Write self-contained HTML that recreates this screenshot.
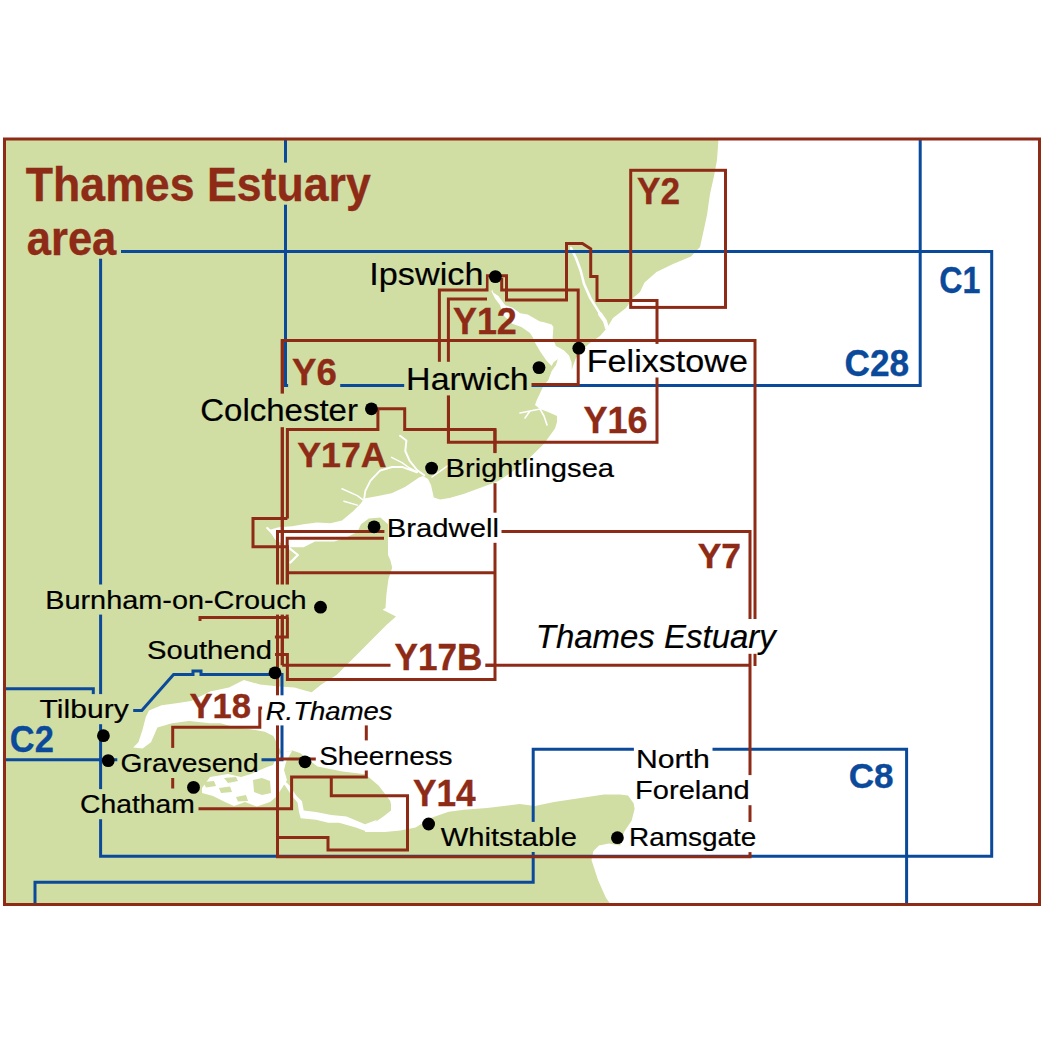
<!DOCTYPE html>
<html><head><meta charset="utf-8">
<style>
html,body{margin:0;padding:0;background:#fff;}
svg{display:block;}
text{font-family:"Liberation Sans",sans-serif;}
.br{fill:none;stroke:#8E2B17;stroke-width:3;stroke-linejoin:miter;stroke-linecap:butt;}
.bl{fill:none;stroke:#0B4A9B;stroke-width:3;stroke-linejoin:miter;stroke-linecap:butt;}
.lb{fill:#000;stroke:#000;stroke-width:0.2;}
.yb{font-weight:bold;fill:#8E2B17;stroke:#8E2B17;stroke-width:0.35;}
.cb{font-weight:bold;fill:#0B4A9B;stroke:#0B4A9B;stroke-width:0.35;}
</style></head>
<body>
<svg width="1044" height="1044" viewBox="0 0 1044 1044">
<defs>
<mask id="km" maskUnits="userSpaceOnUse" x="0" y="0" width="1044" height="1044">
<rect x="0" y="0" width="1044" height="1044" fill="#fff"/>
<g fill="#000">
<!--KNOCKOUTS-->
<rect x="21.5" y="162.6" width="353.5" height="42.1"/>
<rect x="23.3" y="232.5" width="97.7" height="26.2"/>
<rect x="367.9" y="256.4" width="118.0" height="31.6"/>
<rect x="288.1" y="353.7" width="52.1" height="36.8"/>
<rect x="404.2" y="361.8" width="127.3" height="33.6"/>
<rect x="585.0" y="343.9" width="166.0" height="33.6"/>
<rect x="197.5" y="393.6" width="164.9" height="33.6"/>
<rect x="443.2" y="453.1" width="175.6" height="30.1"/>
<rect x="384.4" y="512.7" width="117.1" height="30.1"/>
<rect x="43.0" y="584.5" width="266.6" height="30.1"/>
<rect x="534.5" y="619.0" width="247.7" height="34.8"/>
<rect x="143.5" y="634.9" width="131.4" height="30.1"/>
<rect x="390.5" y="638.2" width="94.8" height="37.2"/>
<rect x="262.1" y="695.3" width="134.6" height="30.1"/>
<rect x="35.7" y="694.1" width="97.5" height="30.1"/>
<rect x="117.3" y="747.9" width="144.2" height="30.1"/>
<rect x="315.8" y="740.4" width="140.3" height="30.1"/>
<rect x="633.9" y="743.5" width="78.6" height="30.1"/>
<rect x="633.0" y="775.1" width="119.7" height="30.1"/>
<rect x="77.0" y="789.1" width="120.8" height="30.1"/>
<rect x="436.5" y="821.9" width="143.6" height="30.1"/>
<rect x="626.8" y="822.0" width="133.0" height="30.1"/>
<!--/KNOCKOUTS-->
</g>
</mask>
</defs>
<rect x="0" y="0" width="1044" height="1044" fill="#fff"/>
<!-- land -->
<rect x="4.5" y="139" width="1035" height="765.5" fill="#D0DDA3"/>
<!-- sea -->
<path id="sea" fill="#fff" d="M718.5,139 L717,160 L714,176 L710,194 L707,215 L704,229 L700,247 L691,256.5 L673,264 L656.5,272 L644.5,282.4 L640,292 L633,298 L626,308 L613,318 L607,328 L600,336 L590,343 L582,350 L576,358 L573,366 L571.8,370 L571.6,362.4 L569,355.5 L563.8,350.3 L556,346 L552.6,338.3 L553.4,327 L551.7,324.5 L543.1,321.9 L540,321.4 L527.7,314.5 L520.2,313.3 L512.2,307.6 L505.3,305.3 L498.4,296.1 L493.2,292.6 L492.1,289.2 L491.5,291.5 L495,298.4 L500.1,305.3 L503,315 L512.2,323.7 L521.4,327.1 L530,332.9 L532.9,337.5 L534.5,341.7 L540.5,352 L546.6,360.7 L551.7,365.9 L553.4,362.4 L557.8,359 L556,365 L551.7,371 L548.3,380 L543.3,386.3 L536.8,400 L535,405 L540,409 L548,412 L557,416 L557,422 L555,428.5 L544.4,443.2 L527.5,460 L510.7,472.7 L498,481.2 L481.2,487.5 L464.3,493.8 L449.5,498 L440,499.5 L433.8,497.4 L431,485 L428,479 L423,476 L419,477.4 L405,487 L391.6,493.2 L378,496 L364.2,498.5 L361,503.2 L353.4,511 L342,520.5 L330.5,523.3 L317,522.4 L303.6,524.3 L292.1,526.2 L278.7,527.2 L269,530 L275,539.6 L288.3,547.3 L303.6,547.3 L315,541.5 L334.3,541.5 L345.8,537.7 L357.3,532 L361,524.3 L368.8,518.5 L380.3,517.6 L388,524.3 L388,555 L390.3,560 L392.2,567.7 L388.4,579.2 L386.4,594.5 L385.5,607.9 L382.6,609.8 L396,616.5 L386.4,625.1 L375,636.6 L359.6,652 L344.3,667.3 L336.6,675 L321.3,684.5 L311.7,692.2 L304,690.3 L294.5,687.4 L279.2,686.4 L260,684.5 L243.8,680 L229,687.4 L210,691.6 L191,701 L176.4,703.2 L161.6,705.3 L149,710.6 L145.8,716.9 L142.6,729.5 L138.4,742.2 L133.2,747.5 L142.6,748.5 L151,742.2 L157.4,727.4 L172,723.2 L189,721 L210,723.2 L220.6,723.2 L235.4,727.4 L252.2,729.5 L264.9,731.7 L273.3,735.9 L277.5,744.3 L281.7,752.7 L292.3,750.6 L300,753 L317.5,766.6 L342.4,771.4 L365.4,774.3 L378.8,785.8 L390.3,801.1 L391,804.4 L391,810.5 L383.4,816.6 L374.2,822.8 L366.6,825.8 L365,832 L385,832 L400.3,830.4 L415.6,827.4 L423.3,822.8 L430,818.2 L448.7,811.7 L464,809.8 L487,807.9 L519.6,804 L535,806 L554,802 L579,798.3 L604,794.5 L620,794.5 L628,795.6 L633.6,803.2 L634.6,809 L631.7,820.5 L624,832 L620.2,845.4 L608.7,843.4 L599,845.4 L593.4,851 L591.5,860 L598,880 L606,898 L612,906 L1044,906 L1044,139 Z"/>
<!-- rivers -->
<g fill="none" stroke="#fff" stroke-linecap="round" stroke-linejoin="round">
<path stroke-width="2.6" d="M571,248 L576,258 L580.7,270.7 L584,283.7 L590.5,298.4 L598.6,311.4 L603,318"/>
<path stroke-width="4" d="M600,314 L605,321.2 L607,328"/>
<path stroke-width="1.6" d="M540,409 L530,411 L520,413 M530,411 L525,418 M540,409 L544,416 L547,425"/>
<path stroke-width="2" d="M400,435.8 L406.4,440.5 L405.3,451 L409.5,460.6 L417,470 L424.3,475.3"/>
<path stroke-width="1.5" d="M391.6,457.4 L402,462.7 L409.5,468 L417,472"/>
<path stroke-width="2" d="M380,470.6 L392,467 L402,466.9 L417,472.2"/>
<path stroke-width="1.8" d="M380,470.6 L370.5,480.6 L365.3,491 L364.2,498.5"/>
<path stroke-width="1.5" d="M432,477 L447.5,465.8"/>
<path stroke-width="1.5" d="M342,488.8 L357.3,495.6 L365,501.3 M343.9,501.3 L357.3,505.1"/>
<path stroke-width="2.2" d="M267.2,528 L275,535.8"/>
<path stroke-width="2.2" d="M288.3,547.3 L297.9,555 L290.2,562.6"/>
</g>
<path fill="#fff" d="M368,832 L355.8,827.4 L339,822.8 L328.2,822.8 L316,819.7 L300.7,818.2 L299,812 L297.6,802.8 L291.5,795.2 L285.3,786 L279.2,778.3 L274.6,772.2 L277.7,770.7 L282.3,778.3 L290,786 L296,795.2 L302,801.3 L303.7,810.5 L316,812 L331.3,815.1 L346.6,816.6 L365,824.3 L377,819.7 Z"/>
<path fill="#fff" d="M202,788 L210,777 L228,774 L241,777 L251,774 L260,770 L267,767 L273,765 L276,758 L282,752 L292,751 L286,762 L284,770 L287,780 L282,788 L276,797 L270,802 L257,806.6 L245,802 L234,806 L225,802 L213,796 L202,793 Z"/>
<g fill="#D0DDA3">
<path d="M203,782 L214,781 L216,786 L206,787.5 Z"/>
<path d="M219,788 L230,786.5 L232,792 L221,793 Z"/>
<path d="M236,797 L246,795 L248,801 L238,801.5 Z"/>
<path d="M253,780 L262,778 L270,781 L271,793 L262,795 L254,792 Z"/>
<path d="M224,778 L236,777 L238,781 L228,783 Z"/>
</g>
<!-- LINES -->
<g mask="url(#km)">
<!-- blue -->
<path class="bl" d="M100.6,856.2 V251.5 H991.7 V856.2 Z"/>
<path class="bl" d="M285.5,139 V385.5 H920.2 V139"/>
<path class="bl" d="M6,688.7 H93.3 V694.5 L93.3,710.4 H141.8 L173.6,674.5 H193 V671 H201 V674.5 H282 V759.7 H6"/>
<path class="bl" d="M35,905 V882.2 H533.2 V749.3 H906.6 V905"/>
<!-- brown -->
<rect class="br" x="630.7" y="170.3" width="94.8" height="137.1"/>
<path class="br" d="M282.2,665.2 V340.6 H755 V666"/>
<path class="br" d="M277.5,856.7 V531.5 H750 V856.7 Z"/>
<path class="br" d="M485,665.2 H750"/>
<path class="br" d="M282.2,665.2 H495"/>
<path class="br" d="M439.4,362 V290 H487 V275.7 H506.5 V300 H566.5 V243.6 H582.4 L590.7,248.8 V276.4 H597 V300.5 H657 V442.3 H448.4 V299 H487"/>
<path class="br" d="M501.7,277.7 V289.9 H578.2 V384.5 H448.4"/>
<path class="br" d="M287.4,518.5 V429.5 H377.9 V408.8 H404.7 V429.5 H495 V679.5 H287.4 V654.6 H275"/>
<path class="br" d="M287.4,518.5 H253 V546.7 H287.4 V585"/>
<path class="br" d="M384,538.3 H287.2 V617.5 H200 V621"/>
<path class="br" d="M287.4,617.5 V636.9 H271.6"/>
<path class="br" d="M287.2,572.8 H495"/>
<path class="br" d="M282.4,340.6 V665"/>
<path class="br" d="M277.5,531.5 V856.7"/>
<path class="br" d="M429.5,429.5 H404.7"/>
<path class="br" d="M448.5,394.8 V442.2"/>
<path class="br" d="M494.9,429.5 V452.7"/>
<path class="br" d="M172.7,788.4 V727.2 H259.8 V708 H366.3 V777 H291.6 V808.7 H198.5"/>
<path class="br" d="M277.5,759 H316.5"/>
<path class="br" d="M331.3,776.2 V795.7 H407.5 V850 H328 V837.5 H277.5"/>
</g>
<!-- TEXT -->
<text class="yb" x="25.75" y="201" style="font-size:48.84px" textLength="344.97" lengthAdjust="spacingAndGlyphs">Thames Estuary</text>
<text class="yb" x="26.78" y="254.5" style="font-size:48.8px" textLength="89.52" lengthAdjust="spacingAndGlyphs">area</text>
<text class="yb" x="636.99" y="204" style="font-size:37.79px" textLength="43.03" lengthAdjust="spacingAndGlyphs">Y2</text>
<text class="cb" x="939.19" y="293.3" style="font-size:37.35px" textLength="41.13" lengthAdjust="spacingAndGlyphs">C1</text>
<text class="lb" x="369.33" y="284.5" style="font-size:32.12px" textLength="114.13" lengthAdjust="spacingAndGlyphs">Ipswich</text>
<text class="yb" x="452.95" y="333.6" style="font-size:36.34px" textLength="63.87" lengthAdjust="spacingAndGlyphs">Y12</text>
<text class="cb" x="844.54" y="376" style="font-size:37.5px" textLength="64.60" lengthAdjust="spacingAndGlyphs">C28</text>
<text class="yb" x="292.10" y="384.7" style="font-size:36.34px" textLength="44.74" lengthAdjust="spacingAndGlyphs">Y6</text>
<text class="lb" x="406.12" y="389.6" style="font-size:31.69px" textLength="122.63" lengthAdjust="spacingAndGlyphs">Harwich</text>
<text class="lb" x="586.77" y="371.7" style="font-size:31.69px" textLength="161.14" lengthAdjust="spacingAndGlyphs">Felixstowe</text>
<text class="lb" x="200.26" y="421.4" style="font-size:31.69px" textLength="157.70" lengthAdjust="spacingAndGlyphs">Colchester</text>
<text class="yb" x="583.50" y="432.8" style="font-size:36.77px" textLength="64.05" lengthAdjust="spacingAndGlyphs">Y16</text>
<text class="yb" x="297.32" y="467.4" style="font-size:35.76px" textLength="89.31" lengthAdjust="spacingAndGlyphs">Y17A</text>
<text class="lb" x="445.53" y="477.4" style="font-size:26.6px" textLength="168.58" lengthAdjust="spacingAndGlyphs">Brightlingsea</text>
<text class="lb" x="386.75" y="537" style="font-size:26.6px" textLength="112.17" lengthAdjust="spacingAndGlyphs">Bradwell</text>
<text class="yb" x="697.72" y="567.5" style="font-size:35.61px" textLength="43.38" lengthAdjust="spacingAndGlyphs">Y7</text>
<text class="lb" x="45.18" y="608.8" style="font-size:26.6px" textLength="261.47" lengthAdjust="spacingAndGlyphs">Burnham-on-Crouch</text>
<text class="lb" x="535.79" y="648" style="font-size:33.43px;font-style:italic" textLength="239.99" lengthAdjust="spacingAndGlyphs">Thames Estuary</text>
<text class="lb" x="146.90" y="659.2" style="font-size:26.6px" textLength="125.13" lengthAdjust="spacingAndGlyphs">Southend</text>
<text class="yb" x="394.54" y="669.6" style="font-size:36.92px" textLength="87.78" lengthAdjust="spacingAndGlyphs">Y17B</text>
<text class="yb" x="189.56" y="717.6" style="font-size:34.88px" textLength="61.49" lengthAdjust="spacingAndGlyphs">Y18</text>
<text class="lb" x="265.73" y="719.6" style="font-size:26.6px;font-style:italic" textLength="126.92" lengthAdjust="spacingAndGlyphs">R.Thames</text>
<text class="lb" x="39.59" y="718.4" style="font-size:26.6px" textLength="89.12" lengthAdjust="spacingAndGlyphs">Tilbury</text>
<text class="cb" x="9.82" y="752" style="font-size:37.79px" textLength="43.95" lengthAdjust="spacingAndGlyphs">C2</text>
<text class="lb" x="120.60" y="772.2" style="font-size:26.6px" textLength="138.21" lengthAdjust="spacingAndGlyphs">Gravesend</text>
<text class="lb" x="319.19" y="764.7" style="font-size:26.6px" textLength="133.39" lengthAdjust="spacingAndGlyphs">Sheerness</text>
<text class="lb" x="635.95" y="767.8" style="font-size:26.6px" textLength="73.77" lengthAdjust="spacingAndGlyphs">North</text>
<text class="lb" x="635.11" y="799.4" style="font-size:26.6px" textLength="114.65" lengthAdjust="spacingAndGlyphs">Foreland</text>
<text class="yb" x="412.96" y="806" style="font-size:36.34px" textLength="62.67" lengthAdjust="spacingAndGlyphs">Y14</text>
<text class="cb" x="848.71" y="787.7" style="font-size:35.9px" textLength="44.86" lengthAdjust="spacingAndGlyphs">C8</text>
<text class="lb" x="80.11" y="813.4" style="font-size:26.6px" textLength="114.72" lengthAdjust="spacingAndGlyphs">Chatham</text>
<text class="lb" x="440.87" y="846.2" style="font-size:26.6px" textLength="135.98" lengthAdjust="spacingAndGlyphs">Whitstable</text>
<text class="lb" x="629.00" y="846.3" style="font-size:26.6px" textLength="127.42" lengthAdjust="spacingAndGlyphs">Ramsgate</text>
<!-- dots -->
<g fill="#000">
<circle cx="495.4" cy="276.6" r="6.4"/>
<circle cx="578.8" cy="348.2" r="6.4"/>
<circle cx="539" cy="367.6" r="6.4"/>
<circle cx="371.4" cy="408.8" r="6.4"/>
<circle cx="431.6" cy="468.1" r="6.4"/>
<circle cx="374.1" cy="526.8" r="6.4"/>
<circle cx="320.5" cy="607.2" r="6.4"/>
<circle cx="275" cy="672.8" r="6.4"/>
<circle cx="103.4" cy="735.7" r="6.4"/>
<circle cx="108.2" cy="760.6" r="6.4"/>
<circle cx="193.5" cy="787.4" r="6.4"/>
<circle cx="305" cy="761.8" r="6.4"/>
<circle cx="428.6" cy="824" r="6.4"/>
<circle cx="617.4" cy="837.7" r="6.4"/>
</g>
<!-- frame -->
<rect x="4.5" y="139" width="1035" height="765.5" fill="none" stroke="#8E2B17" stroke-width="3"/>
</svg>
</body></html>
